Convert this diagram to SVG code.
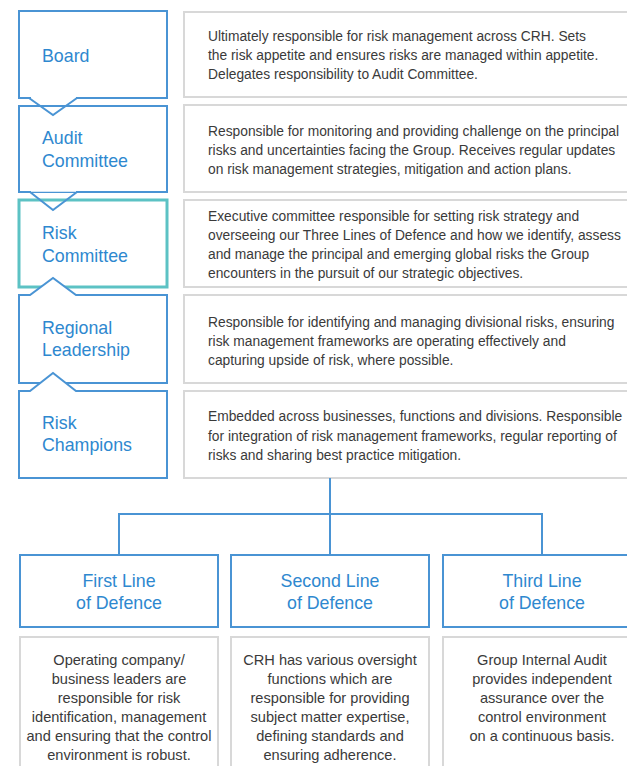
<svg xmlns="http://www.w3.org/2000/svg" width="627" height="766" viewBox="0 0 627 766">
<style>
.bg{fill:#ffffff}
.nb{fill:#ffffff;stroke:#4a94d4;stroke-width:2;stroke-linejoin:miter}
.ptr{fill:none;stroke:#4a94d4;stroke-width:2;stroke-linejoin:miter}
.nt{fill:#ffffff;stroke:#5cc2c4;stroke-width:3}
.gb{fill:#ffffff;stroke:#d8d8d8;stroke-width:2}
.lbl{font-family:"Liberation Sans",Arial,sans-serif;font-size:17.8px;fill:#2e88cf}
.lc{text-anchor:middle}
.txt{font-family:"Liberation Sans",Arial,sans-serif;font-size:13.8px;fill:#3a3a3a}
.btx{font-family:"Liberation Sans",Arial,sans-serif;font-size:14.6px;fill:#3a3a3a;text-anchor:middle}
.con{fill:none;stroke:#4a94d4;stroke-width:2}
</style>
<rect class="bg" x="0" y="0" width="627" height="766"/>

<g id="desc-board"><rect class="gb" x="184" y="12" width="460" height="85"/>
<text class="txt"><tspan x="208" y="41">Ultimately responsible for risk management across CRH. Sets</tspan><tspan x="208" y="60">the risk appetite and ensures risks are managed within appetite.</tspan><tspan x="208" y="79">Delegates responsibility to Audit Committee.</tspan></text></g>

<g id="desc-audit"><rect class="gb" x="184" y="105" width="460" height="87"/>
<text class="txt"><tspan x="208" y="136">Responsible for monitoring and providing challenge on the principal</tspan><tspan x="208" y="155">risks and uncertainties facing the Group. Receives regular updates</tspan><tspan x="208" y="174">on risk management strategies, mitigation and action plans.</tspan></text></g>

<g id="desc-risk"><rect class="gb" x="184" y="200" width="460" height="87"/>
<text class="txt"><tspan x="208" y="221">Executive committee responsible for setting risk strategy and</tspan><tspan x="208" y="240">overseeing our Three Lines of Defence and how we identify, assess</tspan><tspan x="208" y="259">and manage the principal and emerging global risks the Group</tspan><tspan x="208" y="278">encounters in the pursuit of our strategic objectives.</tspan></text></g>

<g id="desc-regional"><rect class="gb" x="184" y="295" width="460" height="88"/>
<text class="txt"><tspan x="208" y="327">Responsible for identifying and managing divisional risks, ensuring</tspan><tspan x="208" y="346">risk management frameworks are operating effectively and</tspan><tspan x="208" y="365">capturing upside of risk, where possible.</tspan></text></g>

<g id="desc-champions"><rect class="gb" x="184" y="391" width="460" height="87"/>
<text class="txt"><tspan x="208" y="421">Embedded across businesses, functions and divisions. Responsible</tspan><tspan x="208" y="441">for integration of risk management frameworks, regular reporting of</tspan><tspan x="208" y="460">risks and sharing best practice mitigation.</tspan></text></g>

<g id="risk-committee"><rect class="nt" x="19" y="200" width="148" height="87"/>
<text class="lbl"><tspan x="42" y="239">Risk</tspan><tspan x="42" y="262">Committee</tspan></text></g>

<g id="audit-committee"><rect class="nb" x="19" y="106" width="148" height="86"/>
<path class="ptr" d="M30,192 L53,210 L77,192"/>
<path d="M31,191 H76" stroke="#ffffff" stroke-width="1.5"/>
<text class="lbl"><tspan x="42" y="144">Audit</tspan><tspan x="42" y="167">Committee</tspan></text></g>

<g id="board"><rect class="nb" x="19" y="11" width="148" height="87"/>
<path d="M31,98 H76" stroke="#ffffff" stroke-width="2.5"/>
<path class="ptr" d="M29,98 L53,115 L77,98"/>
<text class="lbl" x="42" y="62">Board</text></g>

<g id="regional-leadership"><path class="nb" d="M19,295 H30 L53,278 L76,295 H167 V383 H19 Z"/>
<text class="lbl"><tspan x="42" y="334">Regional</tspan><tspan x="42" y="356">Leadership</tspan></text></g>

<g id="risk-champions"><path class="nb" d="M19,391 H30 L53,373 L76,391 H167 V478 H19 Z"/>
<text class="lbl"><tspan x="42" y="429">Risk</tspan><tspan x="42" y="451">Champions</tspan></text></g>

<g id="connectors">
<path class="con" d="M330,478 V555"/>
<path class="con" d="M119,555 V514 H542 V555"/>
</g>

<g id="first-line"><rect class="nb" x="20" y="555" width="198" height="72"/>
<text class="lbl lc"><tspan x="119" y="587">First Line</tspan><tspan x="119" y="609">of Defence</tspan></text></g>
<g id="second-line"><rect class="nb" x="231" y="555" width="198" height="72"/>
<text class="lbl lc"><tspan x="330" y="587">Second Line</tspan><tspan x="330" y="609">of Defence</tspan></text></g>
<g id="third-line"><rect class="nb" x="443" y="555" width="200" height="72"/>
<text class="lbl lc"><tspan x="542" y="587">Third Line</tspan><tspan x="542" y="609">of Defence</tspan></text></g>

<g id="first-desc"><rect class="gb" x="20" y="637" width="198" height="140"/>
<text class="btx"><tspan x="119" y="665">Operating company/</tspan><tspan x="119" y="684">business leaders are</tspan><tspan x="119" y="703">responsible for risk</tspan><tspan x="119" y="722">identification, management</tspan><tspan x="119" y="741">and ensuring that the control</tspan><tspan x="119" y="760">environment is robust.</tspan></text></g>
<g id="second-desc"><rect class="gb" x="231" y="637" width="198" height="140"/>
<text class="btx"><tspan x="330" y="665">CRH has various oversight</tspan><tspan x="330" y="684">functions which are</tspan><tspan x="330" y="703">responsible for providing</tspan><tspan x="330" y="722">subject matter expertise,</tspan><tspan x="330" y="741">defining standards and</tspan><tspan x="330" y="760">ensuring adherence.</tspan></text></g>
<g id="third-desc"><rect class="gb" x="443" y="637" width="200" height="140"/>
<text class="btx"><tspan x="542" y="665">Group Internal Audit</tspan><tspan x="542" y="684">provides independent</tspan><tspan x="542" y="703">assurance over the</tspan><tspan x="542" y="722">control environment</tspan><tspan x="542" y="741">on a continuous basis.</tspan></text></g>
</svg>
